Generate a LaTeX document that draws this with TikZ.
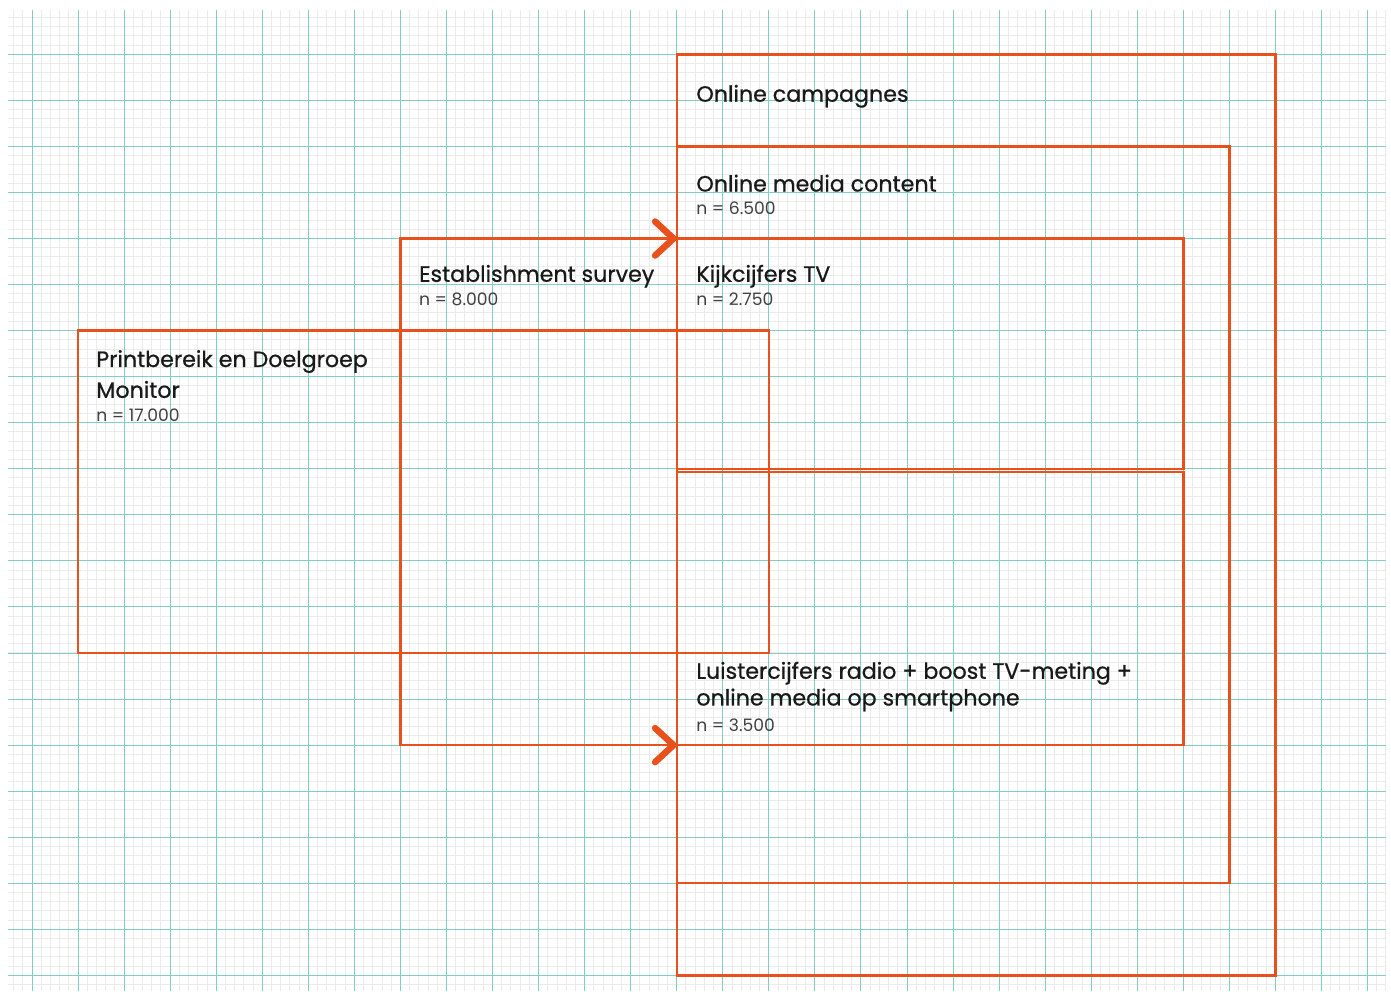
\documentclass[tikz,border=0pt]{standalone}
\usepackage{fontspec}
\setmainfont{Poppins}
\newfontfamily\headfont[FakeBold=0.7]{Poppins}
\usetikzlibrary{arrows.meta}
\definecolor{kijkorange}{HTML}{E8501C}
\definecolor{gridteal}{HTML}{80CEC4}
\definecolor{gridgrey}{HTML}{EBEBEB}
\begin{document}
\begin{tikzpicture}[
  area/.style={draw=kijkorange, line width=1.5pt, anchor=north west, inner sep=0pt, outer sep=0pt},
  title/.style={anchor=base west, inner sep=0pt, font=\headfont\fontsize{13.7}{17}\selectfont, text=black!90},
  count/.style={anchor=base west, inner sep=0pt, font=\fontsize{10.6}{13}\selectfont, text=black!75},
  flow/.style={draw=kijkorange, line width=1.5pt, -{Straight Barb[length=0.4cm, width=0.74cm, line width=4pt, round]}}
]
\useasboundingbox (-0.695,-20.34) rectangle (29.51,1.179);
% grid paper
\draw[gridgrey, line width=0.6pt, step=0.2] (-0.52,-20.34) grid (29.4,0.96);
\draw[gridteal, line width=0.6pt, step=1] (-0.52,-20.34) grid (29.4,0.96);

% panels
\node[area, minimum width=13cm, minimum height=20cm] (campagnes) at (14,0) {};
\node[area, minimum width=12cm, minimum height=16cm] (content) at (14,-2) {};
\node[area, minimum width=11cm, minimum height=5cm] (kijk) at (14,-4) {};
\node[area, minimum width=11cm, minimum height=5.93cm] (luister) at (14,-9.07) {};
\node[area, minimum width=6cm, minimum height=11cm] (survey) at (8,-4) {};
\node[area, minimum width=15cm, minimum height=7cm] (print) at (1,-6) {};

% labels
\node[title] (campagnestitle) at ([shift={(0.42,-1.03)}]campagnes.north west) {Online campagnes};
\node[title] (contenttitle) at ([shift={(0.42,-0.98)}]content.north west) {Online media content};
\node[count] (contentn) at ([shift={(0.42,-1.48)}]content.north west) {n = 6.500};
\node[title] (kijktitle) at ([shift={(0.42,-0.94)}]kijk.north west) {Kijkcijfers TV};
\node[count] (kijkn) at ([shift={(0.42,-1.45)}]kijk.north west) {n = 2.750};
\node[title] (surveytitle) at ([shift={(0.40,-0.94)}]survey.north west) {Establishment survey};
\node[count] (surveyn) at ([shift={(0.40,-1.45)}]survey.north west) {n = 8.000};
\node[title] (printtitle) at ([shift={(0.39,-0.79)}]print.north west) {Printbereik en Doelgroep};
\node[title] (printtitleb) at ([shift={(0.39,-1.46)}]print.north west) {Monitor};
\node[count] (printn) at ([shift={(0.39,-1.97)}]print.north west) {n = 17.000};
\node[title] (luistertitle) at ([shift={(0.42,-4.49)}]luister.north west) {Luistercijfers radio + boost TV-meting +};
\node[title] (luistertitleb) at ([shift={(0.42,-5.07)}]luister.north west) {online media op smartphone};
\node[count] (luistern) at ([shift={(0.42,-5.63)}]luister.north west) {n = 3.500};

% flow into the TV and radio panels
\draw[flow] (survey.north west) -- (kijk.north west);
\draw[flow] (survey.south west) -- (survey.south east);
\end{tikzpicture}
\end{document}
